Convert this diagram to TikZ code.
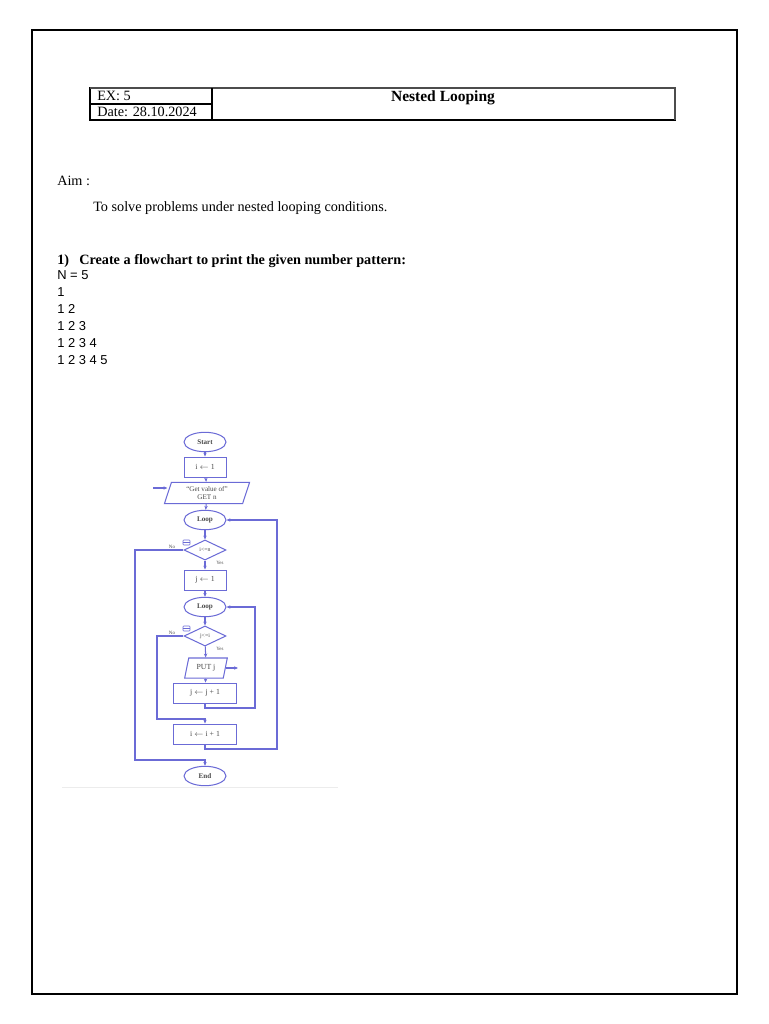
\documentclass[tikz,border=0pt]{standalone}
\usepackage{fontspec}
\setmainfont{Liberation Serif}
\newfontfamily\numfont{Liberation Sans}
\usepackage{xcolor}
\definecolor{flowline}{HTML}{6B6BD6}
\definecolor{flowtext}{HTML}{474747}
\usetikzlibrary{shapes.geometric, arrows.meta}

\begin{document}
\begin{tikzpicture}[
    x=0.7734pt, y=-0.7734pt,
    frame/.style={draw=black, line width=0.8pt},
    cell/.style={anchor=base west, inner sep=0pt, font=\fontsize{11}{13}\selectfont},
    body/.style={anchor=base west, inner sep=0pt, font=\fontsize{11}{13}\selectfont},
    numline/.style={anchor=base west, inner sep=0pt, font=\numfont\fontsize{10}{12}\selectfont},
    term/.style={ellipse, draw=flowline, line width=0.8pt, minimum width=32.5pt, minimum height=15pt, inner sep=0pt, text=flowtext, font=\fontsize{5.5}{6}\selectfont\bfseries},
    proc/.style={rectangle, draw=flowline, line width=0.7pt, minimum width=32.5pt, minimum height=15.5pt, inner sep=0pt, text=flowtext, font=\fontsize{6}{6.5}\selectfont},
    io/.style={trapezium, trapezium left angle=72, trapezium right angle=108, trapezium stretches=true, draw=flowline, line width=0.8pt, inner sep=0pt, text=flowtext, align=center, font=\fontsize{5.5}{5.8}\selectfont},
    test/.style={diamond, draw=flowline, line width=0.8pt, minimum width=32.5pt, minimum height=15.5pt, inner sep=0pt, text=flowtext, font=\fontsize{4.5}{5}\selectfont},
    icon/.style={rectangle, rounded corners=0.6pt, draw=flowline, line width=0.5pt, minimum width=5.4pt, minimum height=3.9pt, inner sep=0pt,
        path picture={\draw[flowline, line width=0.4pt] (path picture bounding box.west) -- (path picture bounding box.east);}},
    tag/.style={inner sep=0pt, text=flowtext, font=\fontsize{3.8}{4}\selectfont},
    arrow/.style={-{Stealth[length=3pt, width=2.6pt]}, draw=flowline, line width=0.8pt}
]
\useasboundingbox (0,0) rectangle (768,1024);

% Page frame and header table
\draw[frame] (32,30) rectangle (737,994);
\draw[line width=0.8pt] (90,88) rectangle (675,120);
\draw[line width=1.2pt, black!70] (90,88) -- (675,88) -- (675,120);
\draw[line width=0.8pt] (212,88) -- (212,120);
\draw[line width=0.8pt] (90,104) -- (212,104);
\node[cell] (ex) at (97,100) {EX: 5};
\node[cell] (date) at (97,116) {Date: 28.10.2024};
\node[anchor=base, inner sep=0pt, font=\fontsize{12}{14}\selectfont\bfseries] (title) at (443,101) {Nested Looping};

% Aim and task
\node[cell] (aim) at (57,185) {Aim :};
\node[body] (aimtext) at (93,211) {To solve problems under nested looping conditions.};
\node[body, font=\fontsize{11}{13}\selectfont\bfseries] (qno) at (57,264) {1)};
\node[body, font=\fontsize{11}{13}\selectfont\bfseries] (qtext) at (79,264) {Create a flowchart to print the given number pattern:};
\node[numline] (n5) at (57,279) {N = 5};
\foreach \row/\txt in {1/1, 2/1 2, 3/1 2 3, 4/1 2 3 4, 5/1 2 3 4 5}
    \node[numline] (row\row) at (57,279+17*\row) {\txt};

% Flowchart
\node[term] (start) at (205,442) {Start};
\node[proc] (iset) at (205,467) {i $\leftarrow$ 1};
\node[io, minimum width=66pt, minimum height=16.5pt] (getn) at (207,493) {``Get value of''\\GET n};
\node[term] (loopi) at (205,520) {Loop};
\node[test] (condi) at (205,550) {i<=n};
\node[proc] (jset) at (205,580) {j $\leftarrow$ 1};
\node[term] (loopj) at (205,607) {Loop};
\node[test] (condj) at (205,636) {j<=i};
\node[io, minimum width=33pt, minimum height=15.5pt, font=\fontsize{6}{6.5}\selectfont] (putj) at (206,668) {PUT j};
\node[proc, minimum width=48.7pt] (jinc) at (205,693) {j $\leftarrow$ j + 1};
\node[proc, minimum width=48.7pt] (iinc) at (205,734) {i $\leftarrow$ i + 1};
\node[term] (stop) at (205,776) {End};

\node[icon] (iconi) at (186.5,542.5) {};
\node[icon] (iconj) at (186.5,628.5) {};
\node[tag] (noi) at (172,547) {No};
\node[tag] (yesi) at (220,563) {Yes};
\node[tag] (noj) at (172,633) {No};
\node[tag] (yesj) at (220,649) {Yes};

\coordinate (getin) at (153,488);
\coordinate (putout) at (238,670);
\coordinate (backj) at (255,708);
\coordinate (backi) at (277,749);
\coordinate (exitj) at (157,719);
\coordinate (exiti) at (135,760);

% Connectors
\draw[arrow] (start) -- (iset);
\draw[arrow] (iset) -- (getn);
\draw[arrow] (getin) -- (getin -| getn.west);
\draw[arrow] (getn) -- (loopi);
\draw[arrow] (loopi) -- (condi);
\draw[arrow] (condi) -- (jset);
\draw[arrow] (jset) -- (loopj);
\draw[arrow] (loopj) -- (condj);
\draw[arrow] (condj) -- (putj);
\draw[arrow] (putj.east) -- (putj.east -| putout);
\draw[arrow] (putj) -- (jinc);
\draw[arrow] (jinc.south) |- (backj) |- (loopj.east);
\draw[arrow] (condj.west) -| (exitj) -| (iinc.north);
\draw[arrow] (iinc.south) |- (backi) |- (loopi.east);
\draw[arrow] (condi.west) -| (exiti) -| (stop.north);

% edge of the pasted picture
\draw[gray!15, line width=0.6pt] (62,787) -- (338,787);

\end{tikzpicture}
\end{document}
